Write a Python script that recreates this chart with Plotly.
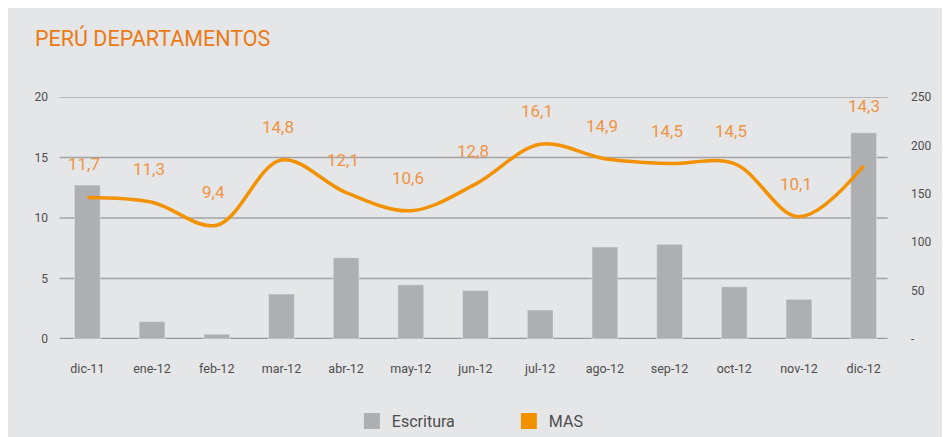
import plotly.graph_objects as go

months = ["dic-11", "ene-12", "feb-12", "mar-12", "abr-12", "may-12", "jun-12",
          "jul-12", "ago-12", "sep-12", "oct-12", "nov-12", "dic-12"]
escritura = [159, 18, 5, 46.5, 84, 56, 50, 30, 95, 98, 54, 41, 213]
mas = [11.7, 11.3, 9.4, 14.8, 12.1, 10.6, 12.8, 16.1, 14.9, 14.5, 14.5, 10.1, 14.3]
mas_labels = ["11,7", "11,3", "9,4", "14,8", "12,1", "10,6", "12,8",
              "16,1", "14,9", "14,5", "14,5", "10,1", "14,3"]
left_ticks = [0, 5, 10, 15, 20]
right_ticks = [0, 50, 100, 150, 200, 250]
right_ticktext = ["-", "50", "100", "150", "200", "250"]

BG = "#E5E6E8"
BAR = "#AEAFB1"
LINE = "#F39200"
LABEL = "#EF9442"
TITLE = "#EC7A14"
GRID = "#A2A3A5"
TXT = "#4D4D4D"
FONT = "Roboto"

fig = go.Figure()
# bars on the right-hand axis (primary), line on the left-hand overlay so it draws on top
fig.add_trace(go.Bar(x=months, y=escritura, name="Escritura", marker_color=BAR,
                     width=0.4, yaxis="y", showlegend=False))
fig.add_trace(go.Scatter(x=months, y=mas, name="MAS", mode="lines",
                         line=dict(color=LINE, width=3.5, shape="spline", smoothing=1.0),
                         yaxis="y2", showlegend=False))
# legend entries with square swatches
fig.add_trace(go.Scatter(x=[None], y=[None], mode="markers", name="Escritura",
                         marker=dict(symbol="square", size=17, color=BAR)))
fig.add_trace(go.Scatter(x=[None], y=[None], mode="markers", name="MAS",
                         marker=dict(symbol="square", size=17, color=LINE)))

n = len(months)
for i, (m, v, t) in enumerate(zip(months, mas, mas_labels)):
    # the last label sits above its tall bar
    shift = 60 if i == n - 1 else 33
    fig.add_annotation(x=m, y=v, xref="x", yref="y2", text=t, showarrow=False,
                       yshift=shift, xshift=-3 if i < n - 1 else 0,
                       font=dict(family=FONT, size=17, color=LABEL))

shapes = []
for t in left_ticks:
    shapes.append(dict(type="line", xref="x", yref="y2", x0=-0.43, x1=12.37, y0=t, y1=t,
                       line=dict(color=GRID if t else "#97989A", width=1.5 if t else 2.5),
                       layer="below"))

fig.update_layout(
    width=950, height=437,
    paper_bgcolor=BG, plot_bgcolor=BG,
    margin=dict(l=47, r=62, t=89, b=106, autoexpand=False),
    font=dict(family=FONT, size=12, color=TXT),
    title=dict(text="PERÚ DEPARTAMENTOS", x=27 / 950, xanchor="left", y=1 - 30 / 437,
               yanchor="middle", font=dict(family=FONT, size=21.5, color=TITLE)),
    shapes=shapes,
    xaxis=dict(type="category", range=[-0.5, 12.5], showgrid=False, showline=False,
               ticks="", tickfont=dict(size=12.5, color=TXT), ticklabelstandoff=20),
    yaxis=dict(range=[0, 250], tickvals=right_ticks, ticktext=right_ticktext,
               side="right", showgrid=False, zeroline=False,
               showline=False, ticks="", tickfont=dict(size=12, color=TXT),
               ticklabelstandoff=14),
    yaxis2=dict(range=[0, 20], tickvals=left_ticks, overlaying="y", side="left",
                showgrid=False, zeroline=False, showline=False, ticks="",
                tickfont=dict(size=12, color=TXT), ticklabelstandoff=6),
    legend=dict(orientation="h", x=0.353, xanchor="left",
                y=-(82 / 242), yanchor="middle",
                font=dict(family=FONT, size=16, color=TXT),
                bgcolor="rgba(0,0,0,0)", entrywidth=112, entrywidthmode="pixels"),
)

fig.write_html("out.html")
